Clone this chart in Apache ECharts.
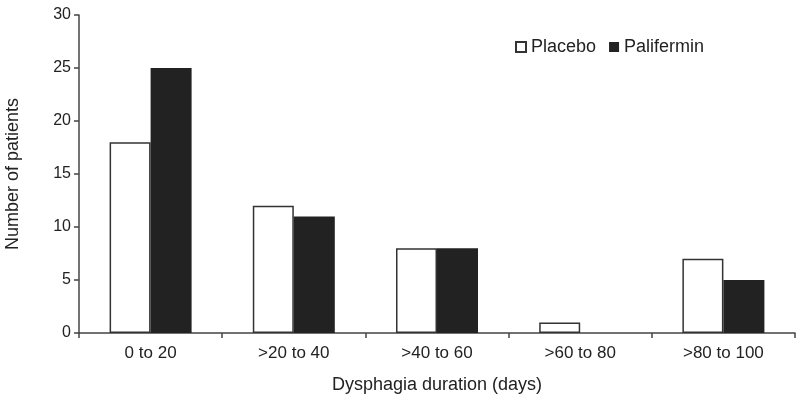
<!DOCTYPE html>
<html><head><meta charset="utf-8">
<script src="https://cdn.jsdelivr.net/npm/echarts@6/dist/echarts.min.js"></script>
<style>html,body{margin:0;padding:0;background:#fff}#c{width:800px;height:401px}</style>
</head><body><div id="c"></div>
<script>
const categories = ['0 to 20', '>20 to 40', '>40 to 60', '>60 to 80', '>80 to 100'];
const placebo = [18, 12, 8, 1, 7];
const palifermin = [25, 11, 8, 0, 5];
const yTicks = [0, 5, 10, 15, 20, 25, 30];

const chart = echarts.init(document.getElementById('c'));
const font = 'Liberation Sans, Arial, sans-serif';
chart.setOption({
  animation: false,
  backgroundColor: '#fff',
  grid: { left: 79, right: 5, top: 15, bottom: 68, containLabel: false, outerBoundsMode: 'none' },
  legend: {
    top: 33, left: 510,
    itemWidth: 10, itemHeight: 10, itemGap: 13,
    icon: 'rect',
    textStyle: { fontFamily: font, fontSize: 18, color: '#222' },
    data: ['Placebo', 'Palifermin']
  },
  xAxis: {
    type: 'category', data: categories,
    name: 'Dysphagia duration (days)', nameLocation: 'middle', nameGap: 43,
    nameTextStyle: { fontFamily: font, fontSize: 18, color: '#222' },
    axisLine: { lineStyle: { color: '#444', width: 1.5 } },
    axisTick: { show: true, length: 5, lineStyle: { color: '#444', width: 1.5 } },
    axisLabel: { fontFamily: font, fontSize: 17, color: '#222', margin: 12 }
  },
  yAxis: {
    type: 'value', min: yTicks[0], max: yTicks[yTicks.length-1], interval: 5,
    name: 'Number of patients', nameLocation: 'middle', nameGap: 57,
    nameTextStyle: { fontFamily: font, fontSize: 18, color: '#222' },
    axisLine: { show: true, lineStyle: { color: '#444', width: 1.5 } },
    axisTick: { show: true, length: 5, lineStyle: { color: '#444', width: 1.5 } },
    axisLabel: { fontFamily: font, fontSize: 16, color: '#222', margin: 8 },
    splitLine: { show: false }
  },
  series: [
    { name: 'Placebo', type: 'bar', data: placebo, barWidth: 41, barGap: '0%',
      itemStyle: { color: '#fff', borderColor: '#333', borderWidth: 1.5 } },
    { name: 'Palifermin', type: 'bar', data: palifermin, barWidth: 41,
      itemStyle: { color: '#222', borderWidth: 0 } }
  ]
});
</script></body></html>
